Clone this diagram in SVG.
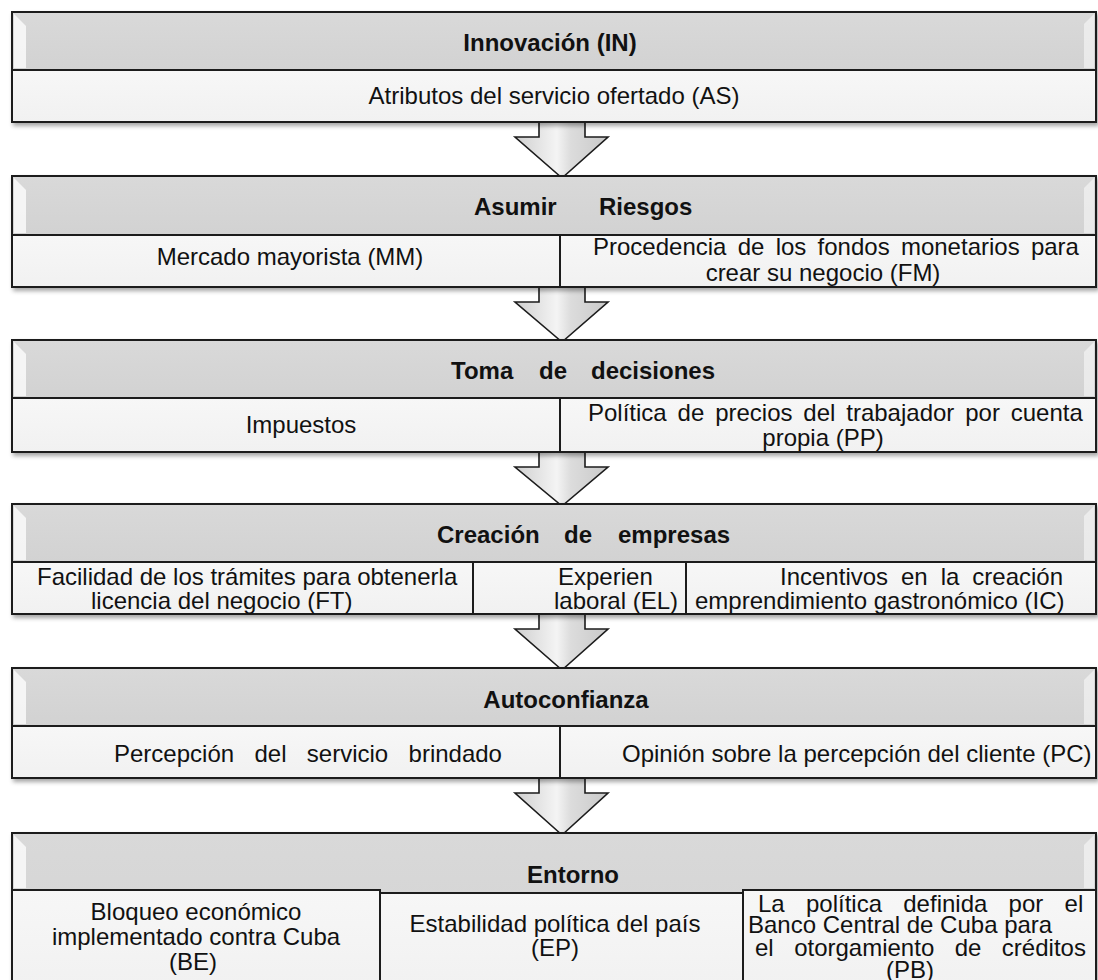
<svg xmlns="http://www.w3.org/2000/svg" width="1098" height="980" viewBox="0 0 1098 980">
<defs>
<linearGradient id="hdr" x1="0" y1="0" x2="0" y2="1">
<stop offset="0" stop-color="#d9d9d9"/><stop offset="1" stop-color="#d2d2d2"/>
</linearGradient>
<linearGradient id="sub" x1="0" y1="0" x2="0" y2="1">
<stop offset="0" stop-color="#f7f7f7"/><stop offset="1" stop-color="#f1f1f1"/>
</linearGradient>
<linearGradient id="arw" x1="0" y1="0" x2="1" y2="0">
<stop offset="0" stop-color="#cfcfcf"/><stop offset="0.45" stop-color="#f4f4f4"/><stop offset="0.6" stop-color="#dcdcdc"/><stop offset="1" stop-color="#c9c9c9"/>
</linearGradient>
<filter id="sh" x="-5%" y="-10%" width="110%" height="130%">
<feDropShadow dx="2" dy="3" stdDeviation="2" flood-color="#000" flood-opacity="0.35"/>
</filter>
</defs>
<style>
.box{stroke:#1c1c1c;stroke-width:2}
.h{fill:url(#hdr)}
.s{fill:url(#sub)}
.bg{fill:#f4f4f4;stroke:#1c1c1c;stroke-width:2}
.bev{fill:#ffffff;opacity:0.75}
.bev2{fill:#ffffff;opacity:0.5}
.ln{stroke:#1c1c1c;stroke-width:2;fill:none}
.arrow{fill:url(#arw);stroke:#1c1c1c;stroke-width:1.6;stroke-linejoin:miter}
text{font-family:"Liberation Sans",Arial,sans-serif;font-size:24px;fill:#111}
.b{font-weight:bold}
.c{text-anchor:middle}
</style>

<g id="connectors">
<path class="arrow" d="M539,122 V137 H515 L562,178 L608,137 H585 V122"/>
<path class="arrow" d="M539,287 V302 H515 L562,342 L608,302 H585 V287"/>
<path class="arrow" d="M539,452 V467 H515 L562,506 L608,467 H585 V452"/>
<path class="arrow" d="M539,614 V629 H515 L562,670 L608,629 H585 V614"/>
<path class="arrow" d="M539,778 V793 H515 L562,835 L608,793 H585 V778"/>
</g>

<g id="innovacion">
<rect class="bg" x="12" y="12" width="1084" height="110" filter="url(#sh)"/>
<rect class="box h" x="12" y="12" width="1084" height="58"/>
<polygon class="bev" points="14,14 26,26 26,68 14,68"/>
<polygon class="bev2" points="1094,14 1084,24 1084,68 1094,68"/>
<rect class="box s" x="12" y="70" width="1084" height="52"/>
<text class="b c" x="550" y="51">Innovación (IN)</text>
<text class="c" x="554" y="104">Atributos del servicio ofertado (AS)</text>
</g>

<g id="asumir">
<rect class="bg" x="12" y="176" width="1084" height="111" filter="url(#sh)"/>
<rect class="box h" x="12" y="176" width="1084" height="59"/>
<polygon class="bev" points="14,178 26,190 26,233 14,233"/>
<polygon class="bev2" points="1094,178 1084,188 1084,233 1094,233"/>
<rect class="box s" x="12" y="235" width="1084" height="52"/>
<line class="ln" x1="560" y1="235" x2="560" y2="287"/>
<text class="b" x="474" y="215">Asumir</text>
<text class="b" x="599" y="215">Riesgos</text>
<text class="c" x="290" y="265">Mercado mayorista (MM)</text>
<text x="593" y="255" word-spacing="4.6">Procedencia de los fondos monetarios para</text>
<text class="c" x="823" y="281">crear su negocio (FM)</text>
</g>

<g id="toma">
<rect class="bg" x="12" y="340" width="1084" height="112" filter="url(#sh)"/>
<rect class="box h" x="12" y="340" width="1084" height="58"/>
<polygon class="bev" points="14,342 26,354 26,396 14,396"/>
<polygon class="bev2" points="1094,342 1084,352 1084,396 1094,396"/>
<rect class="box s" x="12" y="398" width="1084" height="54"/>
<line class="ln" x1="560" y1="398" x2="560" y2="452"/>
<text class="b" x="451" y="379">Toma</text>
<text class="b" x="539" y="379">de</text>
<text class="b" x="591" y="379">decisiones</text>
<text class="c" x="301" y="433">Impuestos</text>
<text x="588" y="421" word-spacing="4.2">Política de precios del trabajador por cuenta</text>
<text class="c" x="823" y="446">propia (PP)</text>
</g>

<g id="creacion">
<rect class="bg" x="12" y="504" width="1084" height="110" filter="url(#sh)"/>
<rect class="box h" x="12" y="504" width="1084" height="58"/>
<polygon class="bev" points="14,506 26,518 26,560 14,560"/>
<polygon class="bev2" points="1094,506 1084,516 1084,560 1094,560"/>
<rect class="box s" x="12" y="562" width="1084" height="52"/>
<line class="ln" x1="473" y1="562" x2="473" y2="614"/>
<line class="ln" x1="686" y1="562" x2="686" y2="614"/>
<text class="b" x="437" y="543">Creación</text>
<text class="b" x="564" y="543">de</text>
<text class="b" x="618" y="543">empresas</text>
<text x="37" y="585">Facilidad de los trámites para obtenerla</text>
<text x="91" y="609">licencia del negocio (FT)</text>
<text x="558" y="585">Experien</text>
<text x="554" y="609">laboral (EL)</text>
<text x="780" y="585" word-spacing="6.3">Incentivos en la creación</text>
<text x="695" y="609">emprendimiento gastronómico (IC)</text>
</g>

<g id="autoconfianza">
<rect class="bg" x="12" y="668" width="1084" height="110" filter="url(#sh)"/>
<rect class="box h" x="12" y="668" width="1084" height="58"/>
<polygon class="bev" points="14,670 26,682 26,724 14,724"/>
<polygon class="bev2" points="1094,670 1084,680 1084,724 1094,724"/>
<rect class="box s" x="12" y="726" width="1084" height="52"/>
<line class="ln" x1="560" y1="726" x2="560" y2="778"/>
<text class="b c" x="566" y="708">Autoconfianza</text>
<text x="114" y="762" word-spacing="13.7">Percepción del servicio brindado</text>
<text x="622" y="762">Opinión sobre la percepción del cliente (PC)</text>
</g>

<g id="entorno">
<rect class="box h" x="12" y="833" width="1084" height="160" filter="url(#sh)"/>
<polygon class="bev" points="14,835 26,847 26,888 14,888"/>
<polygon class="bev2" points="1094,835 1084,845 1084,888 1094,888"/>
<rect class="box s" x="12" y="890" width="368" height="100"/>
<rect class="box s" x="380" y="893" width="363" height="97"/>
<rect class="box s" x="743" y="890" width="353" height="100"/>
<text class="b c" x="573" y="883">Entorno</text>
<text class="c" x="196" y="920">Bloqueo económico</text>
<text class="c" x="196" y="945">implementado contra Cuba</text>
<text class="c" x="193" y="970">(BE)</text>
<text class="c" x="555" y="932">Estabilidad política del país</text>
<text class="c" x="555" y="956">(EP)</text>
<text x="758" y="912" word-spacing="14.6">La política definida por el</text>
<text x="748" y="933">Banco Central de Cuba para</text>
<text x="755" y="956" word-spacing="13.8">el otorgamiento de créditos</text>
<text class="c" x="910" y="978">(PB)</text>
</g>
</svg>
